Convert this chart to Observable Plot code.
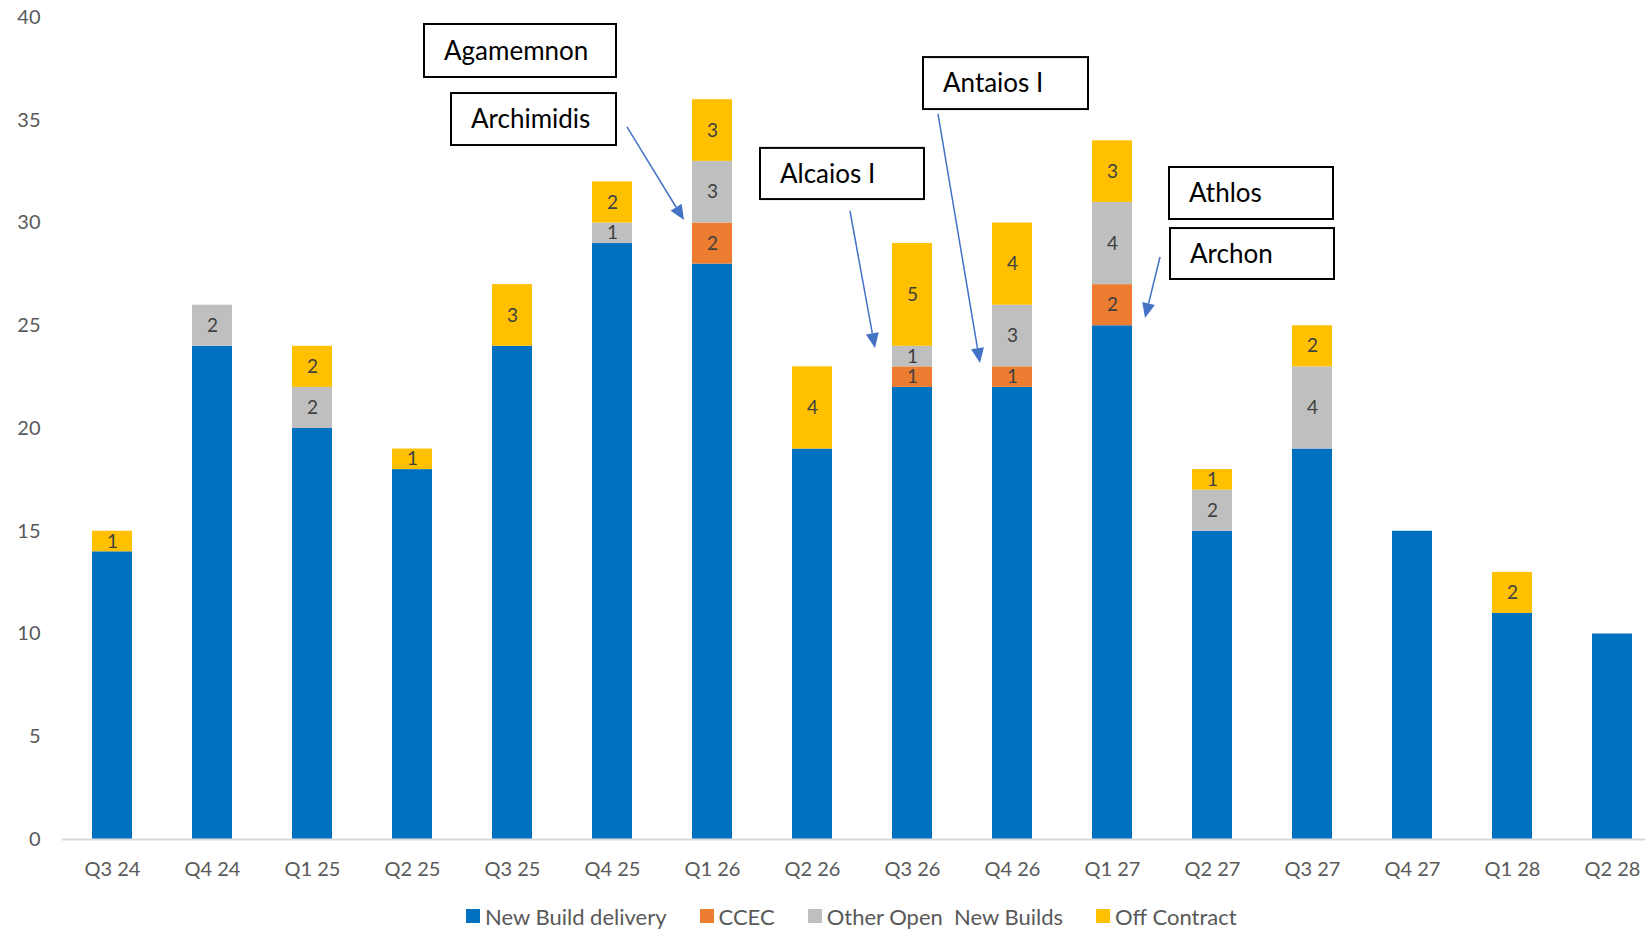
<!DOCTYPE html>
<html><head><meta charset="utf-8">
<script src="https://cdn.jsdelivr.net/npm/d3@7"></script>
<script src="https://cdn.jsdelivr.net/npm/@observablehq/plot@0.6"></script>
<style>
body{margin:0;background:#fff;font-family:Lato,"Open Sans",sans-serif;}
#wrap{position:relative;width:1645px;height:930px;overflow:hidden;}
#legend{position:absolute;left:466px;top:899px;height:34px;display:flex;align-items:center;font-size:22px;color:#595959;white-space:pre;}
#legend .item{display:flex;align-items:center;margin-right:33px;}
#legend .sw{width:14px;height:14px;margin-right:5px;}
</style></head><body>
<div id="wrap"><div id="chart"></div><div id="legend"></div></div>
<script>
const quarters = ["Q3 24","Q4 24","Q1 25","Q2 25","Q3 25","Q4 25","Q1 26","Q2 26","Q3 26","Q4 26","Q1 27","Q2 27","Q3 27","Q4 27","Q1 28","Q2 28"];
const newBuild    = [14,24,20,18,24,29,28,19,22,22,25,15,19,15,11,10];
const ccec        = [0,0,0,0,0,0,2,0,1,1,2,0,0,0,0,0];
const otherOpen   = [0,2,2,0,0,1,3,0,1,3,4,2,4,0,0,0];
const offContract = [1,0,2,1,3,2,3,4,5,4,3,1,2,0,2,0];
const seriesNames = ["New Build delivery","CCEC","Other Open  New Builds","Off Contract"];
const seriesColors = ["#0070C0","#ED7D31","#BFBFBF","#FFC000"];
const yTicks = [0,5,10,15,20,25,30,35,40];

// annotation boxes: label, x-extent in band-step units from first category centre, y-extent in values
const annoLabels = ["Agamemnon","Archimidis","Alcaios I","Antaios I","Athlos","Archon"];
const annoX = [[3.12,5.04],[3.39,5.04],[6.48,8.12],[8.11,9.76],[10.57,12.21],[10.58,12.22]];
const annoY = [[39.66,37.08],[36.30,33.77],[33.63,31.14],[38.05,35.52],[32.70,30.17],[29.73,27.25]];
// arrows: [x1,y1,x2,y2] same units
const arrows = [[5.15,34.65,5.72,30.12],[7.38,30.56,7.63,23.89],[8.26,35.28,8.68,23.16],[10.48,28.32,10.33,25.35]];

const seriesArrays = [newBuild, ccec, otherOpen, offContract];
const rows = [];
quarters.forEach((q,i)=>seriesArrays.forEach((arr,s)=>rows.push({quarter:q, series:seriesNames[s], value:arr[i]})));

const chart = Plot.plot({
  width:1645, height:895,
  marginTop:17, marginBottom:56, marginLeft:62, marginRight:0,
  style:{fontFamily:"Lato, 'Open Sans', sans-serif", fontSize:"20px", background:"#fff"},
  x:{domain:quarters, range:[62,1662], paddingInner:0.6, paddingOuter:0.3, label:null},
  y:{domain:[0,40], label:null},
  color:{domain:seriesNames, range:seriesColors},
  marks:[
    Plot.barY(rows, {x:"quarter", y:"value", fill:"series", z:"series", order:seriesNames}),
    Plot.text(rows, Plot.stackY({x:"quarter", y:"value", z:"series", order:seriesNames,
      text:d => (d.series !== seriesNames[0] && d.value > 0) ? String(d.value) : null,
      fill:"#404040", fontSize:19})),
    Plot.ruleY([0], {stroke:"#D9D9D9", strokeWidth:2}),
    Plot.axisY(yTicks, {tickSize:0, tickPadding:22, fontSize:20, fill:"#595959", label:null}),
    Plot.axisX({tickSize:0, tickPadding:22, fontSize:20, fill:"#595959", label:null})
  ]
});
document.getElementById("chart").appendChild(chart);

// annotations positioned via the chart's scales
const xs = chart.scale("x"), ys = chart.scale("y");
const step = xs.apply(quarters[1]) - xs.apply(quarters[0]);
const c0 = xs.apply(quarters[0]) + (xs.bandwidth ?? step*0.4)/2;
const X = t => c0 + t*step;
const Y = v => ys.apply(v);
const svg = d3.select(chart);
const g = svg.append("g").attr("text-anchor","start");
annoLabels.forEach((lab,i)=>{
  const x1 = X(annoX[i][0]), x2 = X(annoX[i][1]), y1 = Y(annoY[i][0]), y2 = Y(annoY[i][1]);
  g.append("rect").attr("x",x1).attr("y",y1).attr("width",x2-x1).attr("height",y2-y1)
    .attr("fill","#fff").attr("stroke","#000").attr("stroke-width",2);
  g.append("text").attr("x",x1+20).attr("y",(y1+y2)/2).attr("dy","0.35em").attr("text-anchor","start")
    .attr("font-size",26).attr("fill","#000").attr("font-family","Lato, 'Open Sans', sans-serif").text(lab);
});
arrows.forEach(a=>{
  const x1=X(a[0]), y1=Y(a[1]), x2=X(a[2]), y2=Y(a[3]);
  const ang = Math.atan2(y2-y1, x2-x1), L=15, W=6.5;
  const bx = x2 - L*Math.cos(ang), by = y2 - L*Math.sin(ang);
  g.append("line").attr("x1",x1).attr("y1",y1).attr("x2",bx).attr("y2",by).attr("stroke","#4472C4").attr("stroke-width",1.5);
  const px = -Math.sin(ang)*W, py = Math.cos(ang)*W;
  g.append("polygon").attr("points",`${x2},${y2} ${bx+px},${by+py} ${bx-px},${by-py}`).attr("fill","#4472C4");
});

// legend
const leg = d3.select("#legend");
seriesNames.forEach((n,i)=>{
  const it = leg.append("div").attr("class","item");
  it.append("div").attr("class","sw").style("background",seriesColors[i]);
  it.append("span").text(n);
});
</script>
</body></html>
